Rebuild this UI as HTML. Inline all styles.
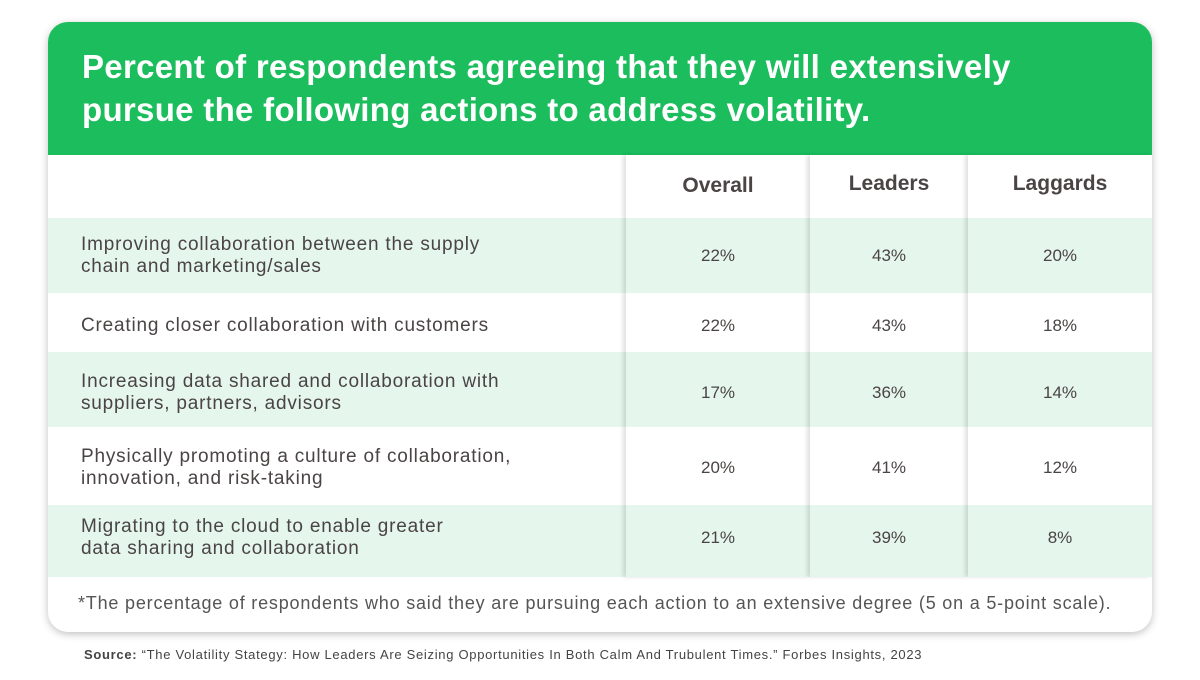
<!DOCTYPE html>
<html><head><meta charset="utf-8"><style>
body{margin:0;width:1200px;height:680px;background:#fff;font-family:"Liberation Sans",sans-serif;position:relative;overflow:hidden;color:#4a4444}
.card{position:absolute;left:48px;top:22px;width:1104px;height:610px;border-radius:20px;background:#fff;box-shadow:0 2px 8px rgba(0,0,0,.25);overflow:hidden}
.hdr{position:absolute;left:0;top:0;width:1104px;height:133px;background:#1bbd5d}
.title{position:absolute;left:34px;top:23px;font-size:33px;font-weight:bold;color:#fff;line-height:43px;letter-spacing:.3px}
.row{position:absolute;left:0;width:1104px}
.g{background:#e5f6ec}
.col{position:absolute;top:133px;height:422px;box-shadow:-3px 0 4px rgba(0,0,0,.12)}
.lab{position:absolute;left:81px;font-size:19px;line-height:22px;letter-spacing:.8px;color:#4a4444}
.v{position:absolute;font-size:17px;text-align:center;color:#4a4444}
.ch{position:absolute;font-size:21px;font-weight:bold;text-align:center}
</style></head><body>
<div class="card">
<div class="hdr"><div class="title">Percent of respondents agreeing that they will extensively<br>pursue the following actions to address volatility.</div></div>
<div class="row g" style="top:196px;height:75px"></div>
<div class="row g" style="top:330px;height:75px"></div>
<div class="row g" style="top:483px;height:72px"></div>
<div class="col" style="left:578px;width:184px"></div>
<div class="col" style="left:762px;width:158px"></div>
<div class="col" style="left:920px;width:184px"></div>
</div>
<div class="ch" style="left:626px;width:184px;top:174px">Overall</div>
<div class="ch" style="left:810px;width:158px;top:172px">Leaders</div>
<div class="ch" style="left:968px;width:184px;top:172px">Laggards</div>
<div id="rows"></div>
<div style="position:absolute;left:78px;top:593px;font-size:18px;letter-spacing:.8px;color:#555;white-space:nowrap">*The percentage of respondents who said they are pursuing each action to an extensive degree (5 on a 5-point scale).</div>
<div style="position:absolute;left:84px;top:647px;font-size:13px;letter-spacing:.7px;color:#444;white-space:nowrap"><b>Source:</b> “The Volatility Stategy: How Leaders Are Seizing Opportunities In Both Calm And Trubulent Times.” Forbes Insights, 2023</div>
<script>
const labels=["Improving collaboration between the supply<br>chain and marketing/sales","Creating closer collaboration with customers","Increasing data shared and collaboration with<br>suppliers, partners, advisors","Physically promoting a culture of collaboration,<br>innovation, and risk-taking","Migrating to the cloud to enable greater<br>data sharing and collaboration"];
const overall=[22,22,17,20,21];
const leaders=[43,43,36,41,39];
const laggards=[20,18,14,12,8];
const centers=[256,326,393,468,538];
const cols=[[626,184],[810,158],[968,184]];
const c=document.getElementById('rows');
labels.forEach((l,i)=>{
 const d=document.createElement('div');d.className='lab';
 
 
 d.innerHTML=l;const n=l.includes('<br>')?2:1;
 d.style.top=(centers[i]-11*n)+'px';c.appendChild(d);
 [overall,leaders,laggards].forEach((s,j)=>{
  const v=document.createElement('div');v.className='v';
  
  
  v.textContent=s[i]+'%';v.style.left=cols[j][0]+'px';v.style.width=cols[j][1]+'px';
  v.style.top=(centers[i]-10)+'px';c.appendChild(v);
 });
});
</script>
</body></html>
